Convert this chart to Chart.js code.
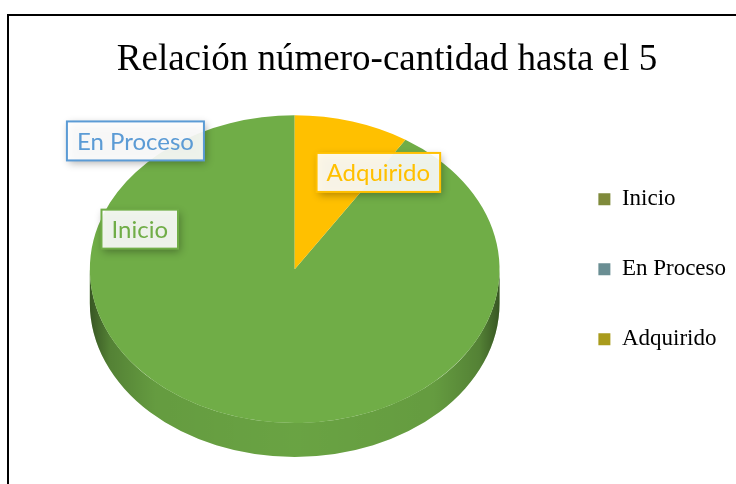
<!DOCTYPE html>
<html>
<head>
<meta charset="utf-8">
<script src="https://cdn.jsdelivr.net/npm/chart.js@4"></script>
<style>
  html, body { margin: 0; padding: 0; background: #fff; overflow: hidden; }
  #wrap { position: relative; width: 736px; height: 484px; }
  #frame {
    position: absolute; left: 7px; top: 14px; width: 780px; height: 520px;
    border-left: 2px solid #000; border-top: 2px solid #000; pointer-events: none;
  }
</style>
</head>
<body>
<div id="wrap">
  <canvas id="myChart" width="736" height="484"></canvas>
  <div id="frame"></div>
</div>
<script>
// Alumnos por nivel de logro
const categories = ['Inicio', 'En Proceso', 'Adquirido'];
const students = [10, 0, 1];

// Colores de las porciones y de la leyenda
const sliceColors = ['#70ad47', '#5b9bd5', '#ffc000'];
const legendColors = ['#7f8a3b', '#6a8e93', '#a99b1c'];

// La última porción (Adquirido) arranca en las 12 y gira a la derecha
const total = students.reduce((s, v) => s + v, 0);
const startRotation = -360 * (total - students[students.length - 1]) / total;

// Pie "3D": aplasta el círculo en elipse, dibuja el canto y las etiquetas
const pie3d = {
    id: 'pie3d',
    geometry(chart, opts) {
        const arc = chart.getDatasetMeta(0).data[0];
        const r = arc.outerRadius;
        const rx = r * opts.stretch;
        return { cx: arc.x, cy: arc.y, r, rx, ry: rx * opts.tilt };
    },
    beforeDatasetsDraw(chart, args, opts) {
        const ctx = chart.ctx;
        const g = this.geometry(chart, opts);

        // canto frontal: solo los tramos que caen entre 0 y PI
        chart.getDatasetMeta(0).data.forEach((arc) => {
            for (let k = -2; k <= 2; k++) {
                const lo = 2 * Math.PI * k;
                const a = Math.max(arc.startAngle, lo);
                const b = Math.min(arc.endAngle, lo + Math.PI);
                if (b <= a) continue;
                ctx.save();
                ctx.beginPath();
                ctx.ellipse(g.cx, g.cy + opts.depth, g.rx, g.ry, 0, a, b);
                ctx.ellipse(g.cx, g.cy, g.rx, g.ry, 0, b, a, true);
                ctx.closePath();
                ctx.fillStyle = arc.options.backgroundColor;
                ctx.fill();
                const shade = ctx.createLinearGradient(g.cx - g.rx, 0, g.cx + g.rx, 0);
                shade.addColorStop(0, 'rgba(0,0,0,0.5)');
                shade.addColorStop(0.05, 'rgba(0,0,0,0.25)');
                shade.addColorStop(0.16, 'rgba(0,0,0,0.1)');
                shade.addColorStop(0.5, 'rgba(0,0,0,0.06)');
                shade.addColorStop(0.84, 'rgba(0,0,0,0.1)');
                shade.addColorStop(0.95, 'rgba(0,0,0,0.25)');
                shade.addColorStop(1, 'rgba(0,0,0,0.5)');
                ctx.fillStyle = shade;
                ctx.fill();
                ctx.restore();
            }
        });

        // la cara superior se dibuja escalada
        ctx.save();
        ctx.translate(g.cx, g.cy);
        ctx.scale(g.rx / g.r, g.ry / g.r);
        ctx.translate(-g.cx, -g.cy);
    },
    afterDatasetsDraw(chart, args, opts) {
        const ctx = chart.ctx;
        ctx.restore();

        const g = this.geometry(chart, opts);
        opts.labels.forEach((p, i) => {
            const ang = p.angle * Math.PI / 180;
            const lx = g.cx + g.rx * p.dist * Math.sin(ang);
            const ly = g.cy - g.ry * p.dist * Math.cos(ang);
            const text = chart.data.labels[i];
            const color = sliceColors[i];

            ctx.save();
            ctx.font = opts.font;
            const w = ctx.measureText(text).width + 20;
            const h = 39;
            ctx.shadowColor = 'rgba(0,0,0,0.35)';
            ctx.shadowBlur = 8;
            ctx.shadowOffsetX = 2;
            ctx.shadowOffsetY = 3;
            ctx.fillStyle = 'rgba(255,255,255,0.9)';
            ctx.fillRect(lx - w / 2, ly - h / 2, w, h);
            ctx.restore();

            ctx.save();
            ctx.strokeStyle = color;
            ctx.lineWidth = 2;
            ctx.strokeRect(lx - w / 2, ly - h / 2, w, h);
            ctx.font = opts.font;
            ctx.fillStyle = color;
            ctx.textAlign = 'center';
            ctx.textBaseline = 'middle';
            ctx.fillText(text, lx, ly + 1);
            ctx.restore();
        });
    }
};

const ctx = document.getElementById('myChart').getContext('2d');
let myChart = new Chart(ctx, {
    type: 'pie',
    data: {
        labels: categories,
        datasets: [
            {
                data: students,
                backgroundColor: sliceColors,
                borderWidth: 0,
                clip: false,
            },
        ],
    },
    options: {
        responsive: false,
        animation: false,
        devicePixelRatio: 1,
        rotation: startRotation,
        layout: { padding: { left: 38, right: 0, top: 0, bottom: 34 } },
        plugins: {
            title: {
                display: true,
                text: 'Relación número-cantidad hasta el 5',
                color: '#000',
                font: { family: 'Liberation Serif', size: 37, weight: 'normal' },
                padding: { top: 38, bottom: 6 },
            },
            legend: {
                position: 'right',
                fullSize: false,
                labels: {
                    color: '#000',
                    font: { family: 'Liberation Serif', size: 23 },
                    boxWidth: 12,
                    boxHeight: 12,
                    padding: 47,
                    generateLabels: (chart) => chart.data.labels.map((text, i) => ({
                        text,
                        fillStyle: legendColors[i],
                        strokeStyle: legendColors[i],
                        lineWidth: 0,
                        hidden: false,
                        index: i,
                    })),
                },
            },
            tooltip: { enabled: false },
            pie3d: {
                stretch: 1.133,
                tilt: 0.751,
                depth: 34,
                font: '24px Lato',
                labels: [
                    { angle: -71, dist: 0.8 },
                    { angle: -43, dist: 1.14 },
                    { angle: 33, dist: 0.75 },
                ],
            },
        },
    },
    plugins: [pie3d],
});
</script>
</body>
</html>
